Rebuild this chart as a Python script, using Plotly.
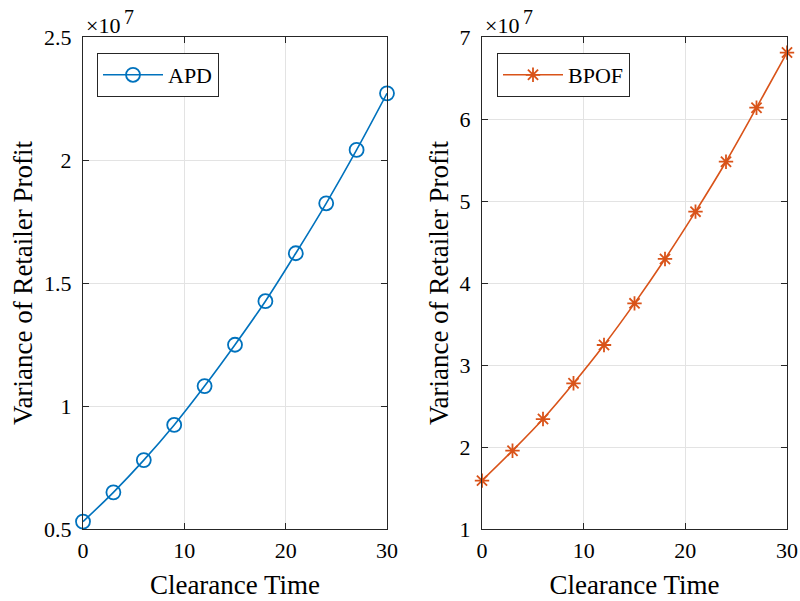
import plotly.graph_objects as go

clearance_time = [0, 3, 6, 9, 12, 15, 18, 21, 24, 27, 30]
# values in units of 1e7
apd_variance = [0.530, 0.649, 0.780, 0.923, 1.081, 1.249, 1.426, 1.621, 1.824, 2.041, 2.271]
bpof_variance = [1.59, 1.955, 2.341, 2.777, 3.244, 3.752, 4.293, 4.870, 5.479, 6.138, 6.81]

x_ticks = [0, 10, 20, 30]
left_y_ticks = [0.5, 1, 1.5, 2, 2.5]
left_y_labels = ["0.5", "1", "1.5", "2", "2.5"]
right_y_ticks = [1, 2, 3, 4, 5, 6, 7]

BLUE = "#0072BD"
ORANGE = "#D95319"
FONT = "Liberation Serif, Times New Roman, serif"
AX = "#262626"
TICK_SIZE = 22
TITLE_SIZE = 27

fig = go.Figure()
fig.add_trace(go.Scatter(
    x=clearance_time, y=apd_variance, name="APD", mode="lines+markers",
    line=dict(color=BLUE, width=1.6, shape="spline"),
    marker=dict(symbol="circle-open", size=14, color=BLUE, line=dict(width=1.8)),
    xaxis="x", yaxis="y", legend="legend", showlegend=True, cliponaxis=False))
fig.add_trace(go.Scatter(
    x=clearance_time, y=bpof_variance, name="BPOF", mode="lines+markers",
    line=dict(color=ORANGE, width=1.6, shape="spline"),
    marker=dict(symbol="asterisk-open", size=12, color=ORANGE, line=dict(width=1.8, color=ORANGE)),
    xaxis="x2", yaxis="y2", legend="legend2", showlegend=True, cliponaxis=False))

common_axis = dict(
    showline=True, linecolor=AX, linewidth=1, mirror="ticks",
    ticks="inside", ticklen=6, tickcolor=AX, tickwidth=1,
    showgrid=True, gridcolor="#e3e3e3", gridwidth=1, zeroline=False,
    tickfont=dict(family=FONT, size=TICK_SIZE, color="#000"),
    automargin=False,
)

ydom = [1 - 529 / 601, 1 - 37 / 601]


def exp_annotations(x0):
    return [
        dict(text="×10", x=x0 / 800, y=1 - 26 / 601, xref="paper", yref="paper",
             xanchor="left", yanchor="middle", showarrow=False,
             font=dict(family=FONT, size=22)),
        dict(text="7", x=(x0 + 38) / 800, y=1 - 17 / 601, xref="paper", yref="paper",
             xanchor="left", yanchor="middle", showarrow=False,
             font=dict(family=FONT, size=20)),
    ]


fig.update_layout(
    width=800, height=601,
    margin=dict(l=0, r=0, t=0, b=0, autoexpand=False),
    paper_bgcolor="white", plot_bgcolor="white",
    font=dict(family=FONT, color="#000"),
    showlegend=True,
    xaxis=dict(domain=[83 / 800, 387 / 800], range=[0, 30], tickvals=x_ticks,
               title=dict(text="Clearance Time", font=dict(family=FONT, size=TITLE_SIZE), standoff=12),
               anchor="y", ticklabelstandoff=2, **common_axis),
    yaxis=dict(domain=ydom, range=[0.5, 2.5], tickvals=left_y_ticks, ticktext=left_y_labels,
               title=dict(text="Variance of Retailer Profit", font=dict(family=FONT, size=TITLE_SIZE), standoff=3),
               anchor="x", ticklabelstandoff=6, **common_axis),
    xaxis2=dict(domain=[482 / 800, 787 / 800], range=[0, 30], tickvals=x_ticks,
                title=dict(text="Clearance Time", font=dict(family=FONT, size=TITLE_SIZE), standoff=12),
                anchor="y2", ticklabelstandoff=2, **common_axis),
    yaxis2=dict(domain=ydom, range=[1, 7], tickvals=right_y_ticks,
                title=dict(text="Variance of Retailer Profit", font=dict(family=FONT, size=TITLE_SIZE), standoff=3),
                anchor="x2", ticklabelstandoff=6, **common_axis),
    legend=dict(x=97 / 800, y=1 - 53 / 601, xanchor="left", yanchor="top",
                bordercolor=AX, borderwidth=1, bgcolor="white", visible=True,
                font=dict(family=FONT, size=TICK_SIZE), itemwidth=60, tracegroupgap=0),
    legend2=dict(x=497 / 800, y=1 - 53 / 601, xanchor="left", yanchor="top",
                 bordercolor=AX, borderwidth=1, bgcolor="white", visible=True,
                 font=dict(family=FONT, size=TICK_SIZE), itemwidth=60, tracegroupgap=0),
    annotations=exp_annotations(84) + exp_annotations(483),
)

fig.write_html(
    "out.html",
    config={"displayModeBar": False},
    post_script="document.body.style.margin='0';document.body.style.padding='0';document.body.style.overflow='hidden';",
)
